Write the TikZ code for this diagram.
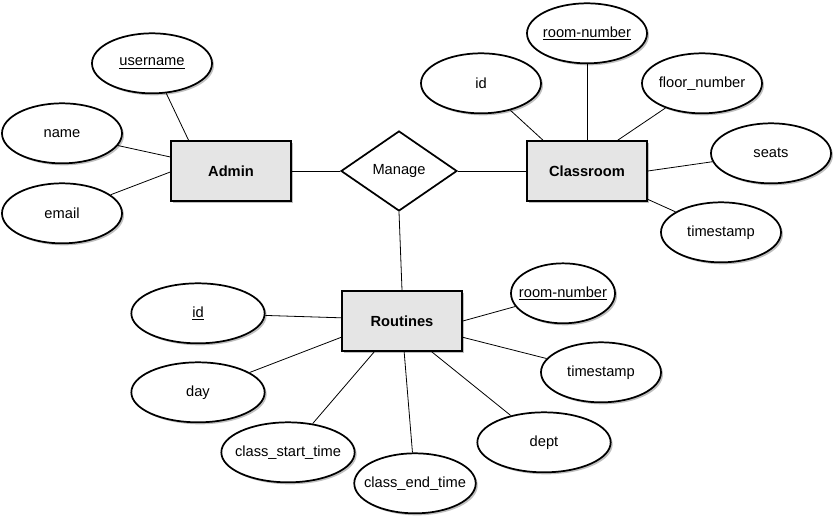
\documentclass[tikz,border=0pt]{standalone}
\usepackage{fontspec}
\setmainfont{Liberation Sans}
\usetikzlibrary{shapes.geometric}
\usetikzlibrary{shadows}

\begin{document}
\begin{tikzpicture}[x=0.75pt, y=-0.75pt,
				font=\fontsize{11}{12}\selectfont,
				shade/.style={drop shadow={shadow xshift=1.5pt, shadow yshift=-1.5pt, fill=black, opacity=0.25}},
				entity/.style={draw, line width=1.3pt, fill=gray!20, minimum width=90pt, minimum height=45pt, font=\fontsize{11}{12}\selectfont\bfseries, shade},
				attr/.style={draw, line width=1.3pt, ellipse, fill=white, minimum width=90pt, minimum height=45pt, inner xsep=-6pt, inner ysep=0pt, yshift=-1pt, shade},
				rel/.style={draw, line width=1.3pt, diamond, fill=white, aspect=1.45, minimum width=87pt, minimum height=60pt, inner sep=1pt},
				link/.style={line width=0.6pt}]
				\useasboundingbox (0,0) rectangle (835,516);
				% entities and relation
				\node[entity] (admin) at (231,171) {Admin};
				\node[rel] (manage) at (399,171) {Manage};
				\node[entity] (classroom) at (587,171) {Classroom};
				\node[entity] (routines) at (402,321) {Routines};
				% admin attributes
				\node[attr] (uname) at (152,62) {\underline{username}};
				\node[attr] (name) at (62,132) {name};
				\node[attr] (email) at (62,212) {email};
				% classroom attributes
				\node[attr] (cid) at (481,82) {id};
				\node[attr] (croom) at (587,32) {\underline{room-number}};
				\node[attr] (cfloor) at (702,82) {floor\_number};
				\node[attr] (cseats) at (771,152) {seats};
				\node[attr] (ctime) at (721,231) {timestamp};
				% routines attributes
				\node[attr, minimum width=100pt] (rid) at (198,312) {\underline{id}};
				\node[attr, minimum width=100pt] (rday) at (198,391) {day};
				\node[attr, minimum width=100pt] (rstart) at (288,451) {class\_start\_time};
				\node[attr, minimum width=89pt] (rend) at (415,482) {class\_end\_time};
				\node[attr, minimum width=100pt] (rdept) at (544,441) {dept};
				\node[attr] (rtime) at (601,371) {timestamp};
				\node[attr, minimum width=78pt] (rroom) at (563,292) {\underline{room-number}};

				% connectors
				\draw[link] (admin.east) -- (manage.west);
				\draw[link] (manage.east) -- (classroom.west);
				\draw[link] (manage.south) -- (routines.north);
				\draw[link] (uname) -- (admin.144);
				\draw[link] (name) -- (admin.167);
				\draw[link] (email) -- (admin.181);
				\draw[link] (cid) -- (classroom.145);
				\draw[link] (croom) -- (classroom.north);
				\draw[link] (cfloor) -- (classroom.45);
				\draw[link] (cseats) -- (classroom.east);
				\draw[link] (ctime) -- (classroom.-25);
				\draw[link] (rid) -- (routines.177);
				\draw[link] (rday) -- (routines.195);
				\draw[link] (rstart) -- (routines.228);
				\draw[link] (rend) -- (routines.274);
				\draw[link] (rdept) -- (routines.314);
				\draw[link] (rtime) -- (routines.345);
				\draw[link] (rroom) -- (routines.east);
\end{tikzpicture}
\end{document}
